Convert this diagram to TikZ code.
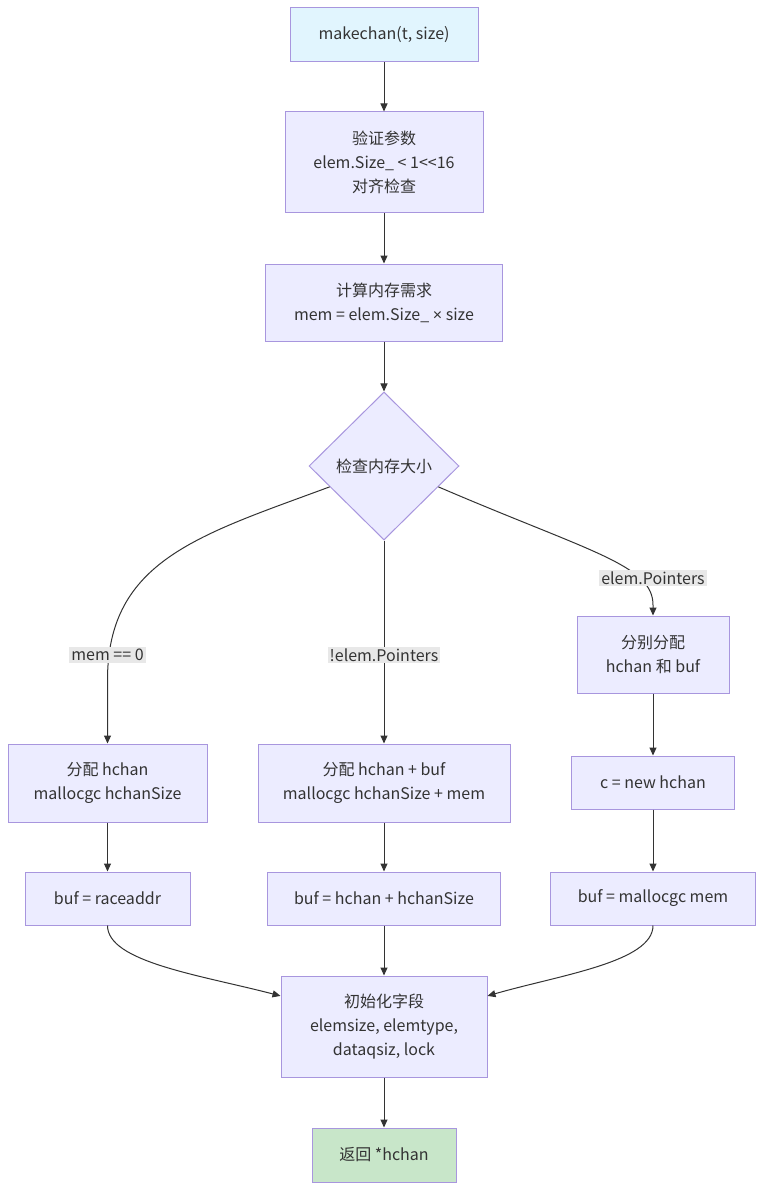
\documentclass[tikz,border=0pt]{standalone}
\usepackage{fontspec}
\setmainfont{Noto Sans CJK SC}
\newfontfamily\symfont{Liberation Sans}
\usetikzlibrary{shapes.geometric,arrows.meta,calc}
\definecolor{boxfill}{HTML}{ECECFF}
\definecolor{boxline}{HTML}{A896DE}
\definecolor{startfill}{HTML}{E1F5FE}
\definecolor{endfill}{HTML}{C8E6C9}
\definecolor{txt}{HTML}{333333}
\definecolor{edgec}{HTML}{333333}
\definecolor{lblfill}{HTML}{E8E8E8}
\begin{document}
\begin{tikzpicture}[x=1pt,y=-1pt,
  every node/.style={font=\fontsize{16}{24}\selectfont, text=txt},
  box/.style={draw=boxline, fill=boxfill, line width=1pt, align=center, inner sep=0pt},
  decide/.style={diamond, draw=boxline, fill=boxfill, line width=1pt, inner sep=0pt, minimum width=150pt, minimum height=148pt},
  lbl/.style={fill=lblfill, inner sep=2pt, align=center},
  conn/.style={draw=edgec, line width=1pt, -{Triangle[length=8pt,width=7pt]}}]
\useasboundingbox (0,0) rectangle (763,1190);
\fill[white] (0,0) rectangle (763,1190);

\node[box, fill=startfill, minimum width=188pt, minimum height=54pt] (A) at (384,35) {makechan(t, size)};
\node[box, minimum width=198pt, minimum height=101pt] (B) at (384,162.5) {验证参数\\elem.Size\_ < 1<{}<16\\对齐检查};
\node[box, minimum width=237pt, minimum height=77pt] (C) at (384,302.5) {计算内存需求\\mem = elem.Size\_ {\symfont ×} size};
\node[decide] (D) at (384,466) {检查内存大小};

\node[box, minimum width=199pt, minimum height=78pt] (E1) at (107.5,783) {分配 hchan\\mallocgc hchanSize};
\node[box, minimum width=165pt, minimum height=53pt] (E2) at (107.5,898.5) {buf = raceaddr};

\node[box, minimum width=252pt, minimum height=78pt] (M1) at (384,783) {分配 hchan + buf\\mallocgc hchanSize + mem};
\node[box, minimum width=233pt, minimum height=53pt] (M2) at (384,898.5) {buf = hchan + hchanSize};

\node[box, minimum width=152pt, minimum height=77pt] (R1) at (653,654.5) {分别分配\\hchan 和 buf};
\node[box, minimum width=163pt, minimum height=53pt] (R2) at (653,782.5) {c = new hchan};
\node[box, minimum width=205pt, minimum height=53pt] (R3) at (653,898.5) {buf = mallocgc mem};

\node[box, minimum width=206pt, minimum height=101pt] (F) at (384,1026.5) {初始化字段\\elemsize, elemtype,\\dataqsiz, lock};
\node[box, fill=endfill, minimum width=144pt, minimum height=54pt] (G) at (384,1155) {返回 *hchan};

% connectors
\draw[conn] (A) -- (B);
\draw[conn] (B) -- (C);
\draw[conn] (C) -- (D);

\coordinate (dl) at ($(D.west)!0.28!(D.south)$);
\coordinate (dr) at ($(D.east)!0.28!(D.south)$);
\draw[conn] (dl) .. controls (200,535) and (107.5,560) .. (107.5,680) -- (E1.north);
\draw[conn] (D.south) -- (M1.north);
\draw[conn] (dr) .. controls (590,552) and (653,565) .. (653,605) -- (R1.north);

\draw[conn] (E1) -- (E2);
\draw[conn] (M1) -- (M2);
\draw[conn] (R1) -- (R2);
\draw[conn] (R2) -- (R3);

\coordinate (fl) at ($(F.north west)!0.2!(F.south west)$);
\coordinate (fr) at ($(F.north east)!0.2!(F.south east)$);
\draw[conn] (E2.south) .. controls (107.5,962) and (200,975) .. (fl);
\draw[conn] (M2) -- (F);
\draw[conn] (R3.south) .. controls (653,962) and (560,975) .. (fr);
\draw[conn] (F) -- (G);

% edge labels
\node[lbl] (L1) at (107.5,655) {mem == 0};
\node[lbl] (L2) at (384,655) {!elem.Pointers};
\node[lbl] (L3) at (653,578) {elem.Pointers};
\end{tikzpicture}
\end{document}
